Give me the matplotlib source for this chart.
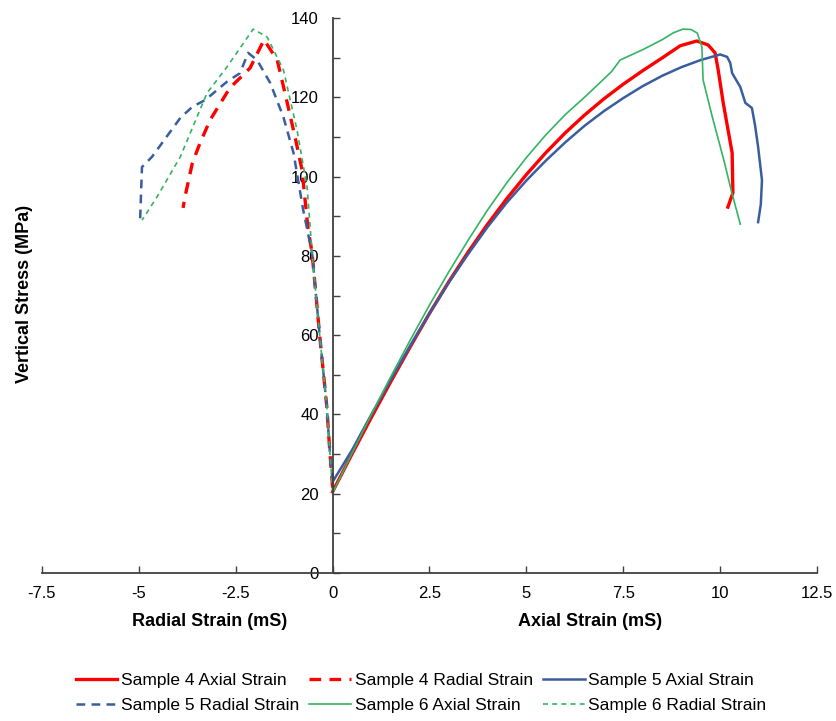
import matplotlib.pyplot as plt
from matplotlib.ticker import MultipleLocator, FuncFormatter

plt.rcParams['font.family'] = ['Liberation Sans', 'DejaVu Sans']

# Sample 4 axial strain (mS) vs vertical stress (MPa)
s4_axial_x = [0, 0.5, 1, 1.5, 2, 2.5, 3, 3.5, 4, 4.5, 5, 5.5, 6, 6.5, 7, 7.5, 8, 8.5, 8.97,
              9.4, 9.69, 9.87, 9.95, 10.08, 10.2, 10.31, 10.33, 10.2]
s4_axial_y = [20.5, 30, 39.25, 48.25, 57, 65.5, 73.5, 81, 88, 94.5, 100.5, 106, 111, 115.5,
              119.6, 123.3, 126.7, 129.9, 133.0, 134.2, 133.2, 131.2, 126.9, 118.6, 112, 106,
              95.9, 92.3]

s5_axial_x = [0, 0.5, 1, 1.5, 2, 2.5, 3, 3.5, 4, 4.5, 5, 5.5, 6, 6.5, 7, 7.5, 8, 8.5, 9, 9.5,
              10.0, 10.18, 10.26, 10.31, 10.52, 10.65, 10.82, 10.9, 10.98, 11.08, 11.05, 10.98]
s5_axial_y = [23, 31, 40, 48.8, 57.3, 65.5, 73.3, 80.5, 87.3, 93.5, 99, 104, 108.6, 112.8, 116.5,
              119.8, 122.8, 125.4, 127.6, 129.4, 130.8, 130.2, 128.7, 126.1, 122.6, 118.6, 117.3,
              113, 107.5, 99.1, 93, 88.5]

s6_axial_x = [0, 0.5, 1, 1.5, 2, 2.5, 3, 3.5, 4, 4.5, 5, 5.5, 6, 6.5, 7.03, 7.2, 7.42, 8, 8.5,
              8.8, 9.04, 9.25, 9.41, 9.53, 9.56, 9.8, 10.1, 10.3, 10.52]
s6_axial_y = [20.2, 30.2, 40, 49.5, 58.7, 67.6, 76, 84, 91.6, 98.5, 104.8, 110.5, 115.6, 120,
              124.9, 126.5, 129.4, 132, 134.5, 136.3, 137.2, 137.1, 136.2, 132.7, 124.4, 115,
              104, 96, 88]

# radial strain (negative, mS)
s4_radial_x = [0, -0.07, -0.15, -0.33, -0.53, -0.64, -0.79, -0.97, -1.23, -1.43, -1.77, -2.13,
               -2.26, -2.65, -3.16, -3.42, -3.62, -3.81, -3.86]
s4_radial_y = [21.5, 30.3, 41.9, 59.5, 80.7, 87.3, 101.7, 110, 121.1, 129.4, 134.5, 127.4,
               126.1, 122.4, 114.3, 108.5, 103.4, 94.9, 92.1]

s5_radial_x = [0, -0.07, -0.15, -0.33, -0.53, -0.76, -1.01, -1.27, -1.61, -1.95, -2.18, -2.39,
               -2.73, -3.29, -3.62, -3.93, -4.66, -4.92, -4.97]
s5_radial_y = [23, 30.3, 41.9, 59.5, 80.7, 91.6, 106, 115, 123.6, 129.4, 131.2, 126.1, 123.9,
               119.3, 117.6, 114.8, 105, 102.4, 88.5]

s6_radial_x = [0, -0.07, -0.15, -0.33, -0.53, -0.58, -0.66, -0.92, -1.27, -1.69, -2.05, -2.73,
               -3.24, -3.93, -4.53, -4.92]
s6_radial_y = [20.5, 30.3, 41.9, 59.5, 80.7, 87.3, 97.4, 111.8, 126.9, 135.2, 137.2, 127.6,
               121.1, 105, 94.9, 89]

x_ticks = [-7.5, -5, -2.5, 0, 2.5, 5, 7.5, 10, 12.5]

red = '#ff0000'
blue = '#3a5d9f'
green = '#33b462'
axis_col = '#404040'

fig = plt.figure(figsize=(8.37, 7.21), dpi=100)
ax = fig.add_axes([42 / 837, 148 / 721, 775 / 837, 555 / 721])

h1, = ax.plot(s4_axial_x, s4_axial_y, color=red, lw=2.4, label='Sample 4 Axial Strain')
h2, = ax.plot(s4_radial_x, s4_radial_y, color=red, lw=2.4, dashes=(3.5, 2.5),
              label='Sample 4 Radial Strain')
h3, = ax.plot(s5_axial_x, s5_axial_y, color=blue, lw=1.8, label='Sample 5 Axial Strain')
h4, = ax.plot(s5_radial_x, s5_radial_y, color=blue, lw=1.8, dashes=(3.5, 2.5),
              label='Sample 5 Radial Strain')
h5, = ax.plot(s6_axial_x, s6_axial_y, color=green, lw=1.2, label='Sample 6 Axial Strain')
h6, = ax.plot(s6_radial_x, s6_radial_y, color=green, lw=1.2, dashes=(3, 2.5),
              label='Sample 6 Radial Strain')

ax.set_xlim(-7.5, 12.5)
ax.set_ylim(0, 140)
ax.spines['top'].set_visible(False)
ax.spines['right'].set_visible(False)
ax.spines['left'].set_position(('data', 0))
for s in ['left', 'bottom']:
    ax.spines[s].set_color(axis_col)
    ax.spines[s].set_linewidth(1.3)

ax.set_xticks(x_ticks)
ax.xaxis.set_major_formatter(FuncFormatter(lambda v, p: ('%g' % v)))
ax.yaxis.set_major_locator(MultipleLocator(20))
ax.yaxis.set_minor_locator(MultipleLocator(10))
ax.tick_params(axis='x', direction='in', length=5, width=1, color=axis_col,
               labelsize=12, pad=9)
ax.tick_params(axis='y', which='both', direction='in', length=5, width=1, color=axis_col,
               labelsize=12, pad=10)

fig.text(25 / 837, (721 - 294) / 721, 'Vertical Stress (MPa)', rotation=90, ha='center',
         va='center', fontsize=13, fontweight='bold')
fig.text(210 / 837, (721 - 621) / 721, 'Radial Strain (mS)', ha='center', va='center',
         fontsize=13, fontweight='bold')
fig.text(590 / 837, (721 - 621) / 721, 'Axial Strain (mS)', ha='center', va='center',
         fontsize=13, fontweight='bold')

order = [h1, h4, h2, h5, h3, h6]
fig.legend(order, [h.get_label() for h in order],
           ncol=3, loc='center', bbox_to_anchor=(421 / 837, (721 - 693) / 721), frameon=False,
           fontsize=12.5, handlelength=2.4, columnspacing=0.6, handletextpad=0.2,
           labelspacing=0.55)

plt.savefig('out.png', dpi=100)
